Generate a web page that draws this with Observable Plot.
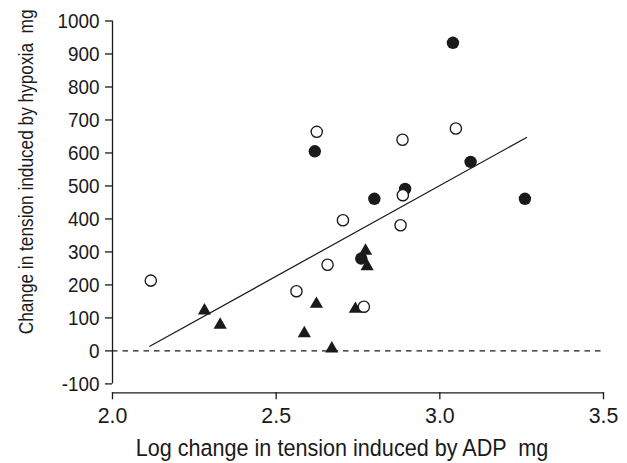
<!DOCTYPE html>
<html>
<head>
<meta charset="utf-8">
<script src="https://cdn.jsdelivr.net/npm/d3@7"></script>
<script src="https://cdn.jsdelivr.net/npm/@observablehq/plot@0.6"></script>
<style>
  html, body { margin: 0; padding: 0; background: #fff; }
</style>
</head>
<body>
<div id="chart"></div>
<script>
// ---- Data ----
const filledX = [3.040, 2.618, 3.094, 2.894, 2.800, 3.260, 2.760];
const filledY = [934, 605, 573, 491, 461, 461, 280];

const openX = [2.624, 2.886, 3.049, 2.887, 2.704, 2.880, 2.657, 2.117, 2.562, 2.768];
const openY = [664, 640, 674, 472, 396, 381, 261, 213, 181, 134];

const triX = [2.281, 2.329, 2.623, 2.586, 2.670, 2.742, 2.773, 2.778];
const triY = [122, 79, 142, 53, 7, 127, 303, 256];

const fitX = [2.114, 3.265];
const fitY = [14, 647];

const xTicks = [2.0, 2.5, 3.0, 3.5];
const yTicks = [-100, 0, 100, 200, 300, 400, 500, 600, 700, 800, 900, 1000];

const xLabel = "Log change in tension induced by ADP  mg";
const yLabel = "Change in tension induced by hypoxia  mg";

const FONT = "'Liberation Sans', Arial, sans-serif";
const fs = {xt: 22, yt: 21, xl: 23.5, yl: 21};

const filled = filledX.map((x, i) => ({x, y: filledY[i]}));
const open = openX.map((x, i) => ({x, y: openY[i]}));
const tri = triX.map((x, i) => ({x, y: triY[i]}));
const fit = fitX.map((x, i) => ({x, y: fitY[i]}));

const ink = "#1a1a1a";

const chart = Plot.plot({
  width: 627,
  height: 463,
  marginLeft: 112,
  marginRight: 24,
  marginTop: 20.5,
  marginBottom: 70.7,
  style: {fontFamily: FONT, color: ink, background: "#fff", overflow: "visible"},
  x: {domain: [2, 3.5]},
  y: {domain: [-127, 1000]},
  marks: [
    Plot.frame({anchor: "bottom", stroke: ink, strokeWidth: 1.3}),
    Plot.ruleX([2], {y1: -100, y2: 1000, stroke: ink, strokeWidth: 1.3}),
    Plot.axisX({ticks: xTicks, tickFormat: d3.format(".1f"), tickSize: 7, tickPadding: 8,
      label: null, fontSize: fs.xt, stroke: ink, strokeWidth: 1.3}),
    Plot.axisY({ticks: yTicks, tickFormat: d => String(d), tickSize: 7, tickPadding: 6,
      label: null, fontSize: fs.yt, stroke: ink, strokeWidth: 1.3}),
    Plot.ruleY([0], {x1: 2, x2: 3.5, stroke: ink, strokeWidth: 1.3, strokeDasharray: "5.5,5"}),
    Plot.line(fit, {x: "x", y: "y", stroke: ink, strokeWidth: 1.25}),
    Plot.dot(filled, {x: "x", y: "y", r: 6.2, fill: ink, stroke: "none"}),
    Plot.dot(tri, {x: "x", y: "y", r: 4.9, symbol: "triangle", fill: ink, stroke: "none"}),
    Plot.dot(open, {x: "x", y: "y", r: 5.6, fill: "#fff", stroke: ink, strokeWidth: 1.35}),
    Plot.text([xLabel], {frameAnchor: "bottom", text: d => d, dx: -16, dy: 56,
      fontSize: fs.xl, fill: ink, lineAnchor: "middle", textAnchor: "middle"}),
    Plot.text([yLabel], {frameAnchor: "left", text: d => d, rotate: -90, dx: -86, dy: -35,
      fontSize: fs.yl, fill: ink, lineAnchor: "middle", textAnchor: "middle"})
  ]
});

document.getElementById("chart").appendChild(chart);

// Emulate the condensed typeface of the original: squeeze glyphs along the text direction
function condense(sel, factor, targets) {
  chart.querySelectorAll(sel).forEach((t, i) => {
    const w = t.getComputedTextLength();
    const k = targets ? targets[i] / w : factor;
    const tr = t.getAttribute("transform") || "";
    t.setAttribute("transform", (tr + ` scale(${k},1)`).trim());
  });
}
condense('g[aria-label="y-axis tick label"] text', 0.9);
condense('g[aria-label="x-axis tick label"] text', 0.97);
condense('g[aria-label="text"] text', 1, [413, 325]);
</script>
</body>
</html>
